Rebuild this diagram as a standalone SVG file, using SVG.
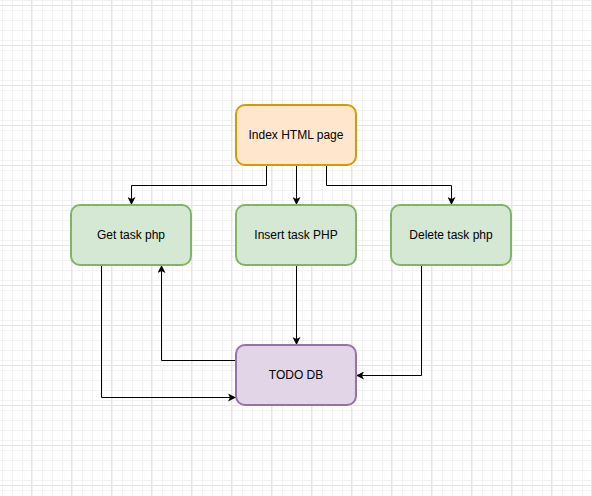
<svg xmlns="http://www.w3.org/2000/svg" width="592" height="496" viewBox="0 0 592 496">
<style>
.node rect{stroke-width:2}
.orange{fill:#ffe6cc;stroke:#d79b00}
.green{fill:#d5e8d4;stroke:#82b366}
.purple{fill:#e1d5e7;stroke:#9673a6}
.label{font-family:"Liberation Sans",Arial,sans-serif;font-size:12px;fill:#000;text-anchor:middle;dominant-baseline:central}
.edge{fill:none;stroke:#000;stroke-width:1}
</style>
<defs>
<pattern id="minor" width="10" height="10" patternUnits="userSpaceOnUse" x="1" y="5">
<path d="M0.5 0V10M0 0.5H10" fill="none" stroke="#f2f2f2" stroke-width="1"/>
</pattern>
<pattern id="major" width="40" height="40" patternUnits="userSpaceOnUse" x="31" y="5">
<rect width="40" height="40" fill="url(#minor)"/>
<path d="M0.5 0V40M0 0.5H40" fill="none" stroke="#e6e6e6" stroke-width="1"/>
</pattern>
<marker id="arrow" viewBox="0 0 10 10" refX="10" refY="5" markerWidth="8" markerHeight="8" markerUnits="userSpaceOnUse" orient="auto">
<path d="M0 0L10 5L0 10L2.5 5Z" fill="#000"/>
</marker>
</defs>
<rect width="592" height="496" fill="#fff"/>
<rect width="592" height="496" fill="url(#major)"/>
<g id="connectors">
<path class="edge" d="M266.5 165V185.5H131.5V205" marker-end="url(#arrow)"/>
<path class="edge" d="M296.5 165V205" marker-end="url(#arrow)"/>
<path class="edge" d="M326.5 165V185.5H451.5V205" marker-end="url(#arrow)"/>
<path class="edge" d="M296.5 265V345" marker-end="url(#arrow)"/>
<path class="edge" d="M421.5 265V375.5H356" marker-end="url(#arrow)"/>
<path class="edge" d="M236 360.5H161.5V265" marker-end="url(#arrow)"/>
<path class="edge" d="M101.5 265V397.5H236" marker-end="url(#arrow)"/>
</g>
<g id="index" class="node">
<rect class="orange" x="236" y="105" width="120" height="60" rx="9"/>
<text class="label" x="296" y="135">Index HTML page</text>
</g>
<g id="get" class="node">
<rect class="green" x="71" y="205" width="120" height="60" rx="9"/>
<text class="label" x="131" y="235">Get task php</text>
</g>
<g id="insert" class="node">
<rect class="green" x="236" y="205" width="120" height="60" rx="9"/>
<text class="label" x="296" y="235">Insert task PHP</text>
</g>
<g id="delete" class="node">
<rect class="green" x="391" y="205" width="120" height="60" rx="9"/>
<text class="label" x="451" y="235">Delete task php</text>
</g>
<g id="todo" class="node">
<rect class="purple" x="236" y="345" width="120" height="60" rx="9"/>
<text class="label" x="296" y="375">TODO DB</text>
</g>
</svg>
